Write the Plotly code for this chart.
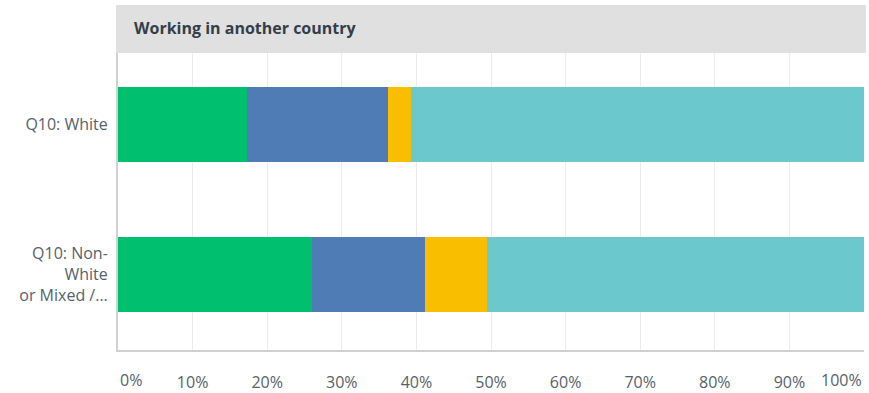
import plotly.graph_objects as go

categories = ["Q10: White", "Q10: Non-<br>White<br>or Mixed /..."]
series_names = ["Option 1", "Option 2", "Option 3", "Option 4"]
series_values = [
    [17.3, 26.0],
    [18.9, 15.2],
    [3.1, 8.3],
    [60.7, 50.5],
]
colors = ["#00BF6F", "#507CB6", "#F9BE00", "#6BC8CD"]
tick_vals = [0, 10, 20, 30, 40, 50, 60, 70, 80, 90, 100]
tick_text = ["", "10%", "20%", "30%", "40%", "50%", "60%", "70%", "80%", "90%", ""]
title_text = "Working in another country"

FONT = "Open Sans, Lato, sans-serif"
TXT = "#56626b"

fig = go.Figure()
for name, vals, col in zip(series_names, series_values, colors):
    fig.add_trace(go.Bar(
        y=categories, x=vals, orientation="h", name=name,
        marker=dict(color=col, line=dict(width=0)),
        width=0.5, hoverinfo="skip",
    ))

W, H = 869, 393
ml, mr, mt, mb = 118, 5, 53, 43
pw = W - ml - mr
ph = H - mt - mb

fig.update_layout(
    width=W, height=H,
    barmode="stack",
    showlegend=False,
    plot_bgcolor="white", paper_bgcolor="white",
    margin=dict(l=ml, r=mr, t=mt, b=mb, autoexpand=False),
    font=dict(family=FONT, size=16, color=TXT),
)
fig.update_xaxes(
    range=[0, 100], tickvals=tick_vals, ticktext=tick_text,
    showgrid=True, gridcolor="#ebebeb", gridwidth=1,
    showline=True, linecolor="#d0d0d0", linewidth=2,
    ticks="outside", ticklen=17, tickcolor="rgba(0,0,0,0)",
    tickfont=dict(family=FONT, size=16, color=TXT),
    zeroline=False, fixedrange=True,
)
fig.update_yaxes(
    range=[1.503, -0.477],
    showline=True, linecolor="#d0d0d0", linewidth=2,
    showgrid=False, ticks="outside", ticklen=5, tickcolor="rgba(0,0,0,0)",
    tickfont=dict(family=FONT, size=16, color=TXT),
)
# header bar
fig.add_shape(
    type="rect", xref="paper", yref="paper",
    x0=-2 / pw, x1=(866 - ml) / pw, y0=1, y1=1 + 48 / ph,
    fillcolor="#e0e0e0", line=dict(width=0), layer="below",
)
fig.add_annotation(
    xref="paper", yref="paper", x=(132 - ml) / pw, y=1 + 25 / ph,
    xanchor="left", yanchor="middle", showarrow=False,
    text="<b>" + title_text + "</b>",
    font=dict(family=FONT, size=16, color="#333e48"),
)
# end tick labels aligned inside
fig.add_annotation(
    xref="x", yref="paper", x=tick_vals[0], y=0, yshift=-30,
    xanchor="left", yanchor="middle", showarrow=False,
    text="0%", font=dict(family=FONT, size=16, color=TXT),
)
fig.add_annotation(
    xref="x", yref="paper", x=tick_vals[-1], y=0, yshift=-30,
    xanchor="right", yanchor="middle", showarrow=False,
    text="100%", font=dict(family=FONT, size=16, color=TXT),
)

fig.write_html(
    "out.html",
    config={"displayModeBar": False},
    post_script="document.body.style.margin='0';",
)
